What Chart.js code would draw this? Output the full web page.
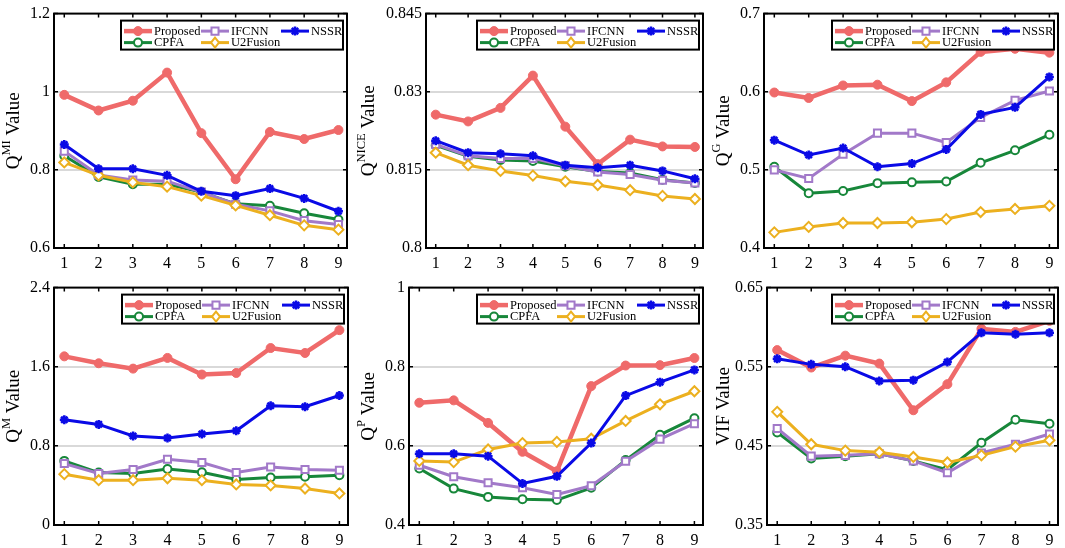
<!DOCTYPE html>
<html lang="en">
<head>
    <meta charset="UTF-8">
    <title>Fusion metrics</title>
    <style>
        body {
            margin: 0;
            background: #ffffff;
        }
        .board {
            position: relative;
            width: 1065px;
            height: 548px;
        }
        .board canvas {
            position: absolute;
        }
    </style>
</head>
<body>
    <div class="board">
        <canvas id="qmi" width="355" height="274" style="left:0;top:0"></canvas>
        <canvas id="qnice" width="355" height="274" style="left:355px;top:0"></canvas>
        <canvas id="qg" width="355" height="274" style="left:710px;top:0"></canvas>
        <canvas id="qm" width="355" height="274" style="left:0;top:274px"></canvas>
        <canvas id="qp" width="355" height="274" style="left:355px;top:274px"></canvas>
        <canvas id="vif" width="355" height="274" style="left:710px;top:274px"></canvas>
    </div>

    <script src="https://cdn.jsdelivr.net/npm/chart.js"></script>
    <script>
        // image index on the x axis
        const xCats = [1, 2, 3, 4, 5, 6, 7, 8, 9];
        const methods = ['Proposed', 'CPFA', 'IFCNN', 'U2Fusion', 'NSSR'];

        // Q^MI
        const qmiTicks = [0.6, 0.8, 1, 1.2];
        const qmiProposed = [0.992, 0.952, 0.977, 1.049, 0.894, 0.776, 0.897, 0.879, 0.902];
        const qmiCPFA     = [0.836, 0.782, 0.763, 0.763, 0.743, 0.713, 0.708, 0.689, 0.673];
        const qmiIFCNN    = [0.848, 0.787, 0.774, 0.771, 0.743, 0.712, 0.695, 0.670, 0.660];
        const qmiU2Fusion = [0.819, 0.786, 0.768, 0.757, 0.734, 0.709, 0.684, 0.658, 0.647];
        const qmiNSSR     = [0.865, 0.803, 0.803, 0.786, 0.745, 0.734, 0.752, 0.727, 0.694];

        // Q^NICE
        const qniceTicks = [0.8, 0.815, 0.83, 0.845];
        const qniceProposed = [0.8256, 0.8243, 0.8269, 0.8331, 0.8233, 0.8161, 0.8208, 0.8195, 0.8194];
        const qniceCPFA     = [0.8197, 0.8176, 0.8169, 0.8167, 0.8156, 0.8147, 0.8144, 0.8131, 0.8125];
        const qniceIFCNN    = [0.8199, 0.8177, 0.8172, 0.8172, 0.8158, 0.8146, 0.8141, 0.8130, 0.8125];
        const qniceU2Fusion = [0.8183, 0.8159, 0.8148, 0.8139, 0.8128, 0.8121, 0.8111, 0.8100, 0.8094];
        const qniceNSSR     = [0.8206, 0.8183, 0.8181, 0.8177, 0.8159, 0.8154, 0.8159, 0.8148, 0.8133];

        // Q^G
        const qgTicks = [0.4, 0.5, 0.6, 0.7];
        const qgProposed = [0.599, 0.592, 0.608, 0.609, 0.588, 0.612, 0.651, 0.655, 0.650];
        const qgCPFA     = [0.504, 0.470, 0.473, 0.483, 0.484, 0.485, 0.509, 0.525, 0.545];
        const qgIFCNN    = [0.500, 0.489, 0.520, 0.547, 0.547, 0.535, 0.567, 0.589, 0.601];
        const qgU2Fusion = [0.420, 0.427, 0.432, 0.432, 0.433, 0.437, 0.446, 0.450, 0.454];
        const qgNSSR     = [0.538, 0.519, 0.528, 0.504, 0.508, 0.526, 0.571, 0.580, 0.619];

        // Q^M
        const qmTicks = [0, 0.8, 1.6, 2.4];
        const qmProposed = [1.705, 1.635, 1.581, 1.689, 1.521, 1.537, 1.789, 1.739, 1.970];
        const qmCPFA     = [0.648, 0.530, 0.520, 0.567, 0.534, 0.460, 0.480, 0.487, 0.504];
        const qmIFCNN    = [0.621, 0.520, 0.561, 0.665, 0.631, 0.530, 0.587, 0.561, 0.554];
        const qmU2Fusion = [0.514, 0.453, 0.453, 0.473, 0.453, 0.410, 0.400, 0.369, 0.319];
        const qmNSSR     = [1.064, 1.017, 0.900, 0.880, 0.920, 0.953, 1.205, 1.195, 1.309];

        // Q^P
        const qpTicks = [0.4, 0.6, 0.8, 1];
        const qpProposed = [0.709, 0.715, 0.658, 0.585, 0.536, 0.751, 0.803, 0.804, 0.822];
        const qpCPFA     = [0.543, 0.492, 0.471, 0.465, 0.463, 0.494, 0.564, 0.628, 0.670];
        const qpIFCNN    = [0.551, 0.522, 0.507, 0.494, 0.477, 0.499, 0.561, 0.617, 0.656];
        const qpU2Fusion = [0.562, 0.559, 0.591, 0.607, 0.610, 0.618, 0.663, 0.705, 0.738];
        const qpNSSR     = [0.580, 0.580, 0.574, 0.505, 0.523, 0.607, 0.727, 0.761, 0.792];

        // VIF
        const vifTicks = [0.35, 0.45, 0.55, 0.65];
        const vifProposed = [0.571, 0.549, 0.564, 0.554, 0.495, 0.528, 0.598, 0.594, 0.608];
        const vifCPFA     = [0.467, 0.434, 0.437, 0.440, 0.431, 0.420, 0.454, 0.483, 0.478];
        const vifIFCNN    = [0.472, 0.437, 0.438, 0.440, 0.431, 0.416, 0.441, 0.452, 0.465];
        const vifU2Fusion = [0.493, 0.452, 0.444, 0.442, 0.436, 0.429, 0.438, 0.449, 0.457];
        const vifNSSR     = [0.560, 0.553, 0.550, 0.532, 0.533, 0.556, 0.593, 0.591, 0.593];

        const FONT = "'Liberation Serif', 'Times New Roman', serif";

        // look of each method's line
        const styles = {
            Proposed: { color: '#ef6a6a', fill: '#ef6a6a', marker: 'circle', radius: 4.5, lineWidth: 4.5, markerWidth: 1, order: 5 },
            CPFA:     { color: '#17873a', fill: '#ffffff', marker: 'circle', radius: 4, lineWidth: 3, markerWidth: 2, order: 4 },
            IFCNN:    { color: '#a279c9', fill: '#ffffff', marker: 'rect', radius: 5, lineWidth: 3, markerWidth: 2, order: 3 },
            U2Fusion: { color: '#ecb01f', fill: '#ffffff', marker: 'rectRot', radius: 5, lineWidth: 3, markerWidth: 2, order: 2 },
            NSSR:     { color: '#0a0ae6', fill: '#0a0ae6', marker: 'star', radius: 4.5, lineWidth: 3, markerWidth: 2.5, order: 1 }
        };

        // small marker painter for the legend
        function drawMarker(ctx, style, x, y) {
            const r = style.radius;
            ctx.fillStyle = style.fill;
            ctx.strokeStyle = style.color;
            ctx.lineWidth = style.markerWidth;
            ctx.beginPath();
            if (style.marker === 'circle') {
                ctx.arc(x, y, r, 0, Math.PI * 2);
                ctx.fill();
                ctx.stroke();
            } else if (style.marker === 'rect') {
                const s = r * Math.SQRT1_2;
                ctx.rect(x - s, y - s, 2 * s, 2 * s);
                ctx.fill();
                ctx.stroke();
            } else if (style.marker === 'rectRot') {
                ctx.moveTo(x, y - r);
                ctx.lineTo(x + r * 0.8, y);
                ctx.lineTo(x, y + r);
                ctx.lineTo(x - r * 0.8, y);
                ctx.closePath();
                ctx.fill();
                ctx.stroke();
            } else {
                ctx.moveTo(x - r, y); ctx.lineTo(x + r, y);
                ctx.moveTo(x, y - r); ctx.lineTo(x, y + r);
                const d = r * Math.SQRT1_2;
                ctx.moveTo(x - d, y - d); ctx.lineTo(x + d, y + d);
                ctx.moveTo(x - d, y + d); ctx.lineTo(x + d, y - d);
                ctx.stroke();
            }
        }

        // box, inward ticks, legend and the y title
        const framePlugin = {
            id: 'frame',
            afterDatasetsDraw(chart, args, opts) {
                const { ctx, chartArea: a } = chart;
                ctx.save();
                ctx.strokeStyle = '#000';
                ctx.lineWidth = 1.5;
                ctx.beginPath();
                chart.scales.y.ticks.forEach(t => {
                    const py = chart.scales.y.getPixelForValue(t.value);
                    ctx.moveTo(a.left, py); ctx.lineTo(a.left + 4, py);
                    ctx.moveTo(a.right, py); ctx.lineTo(a.right - 4, py);
                });
                chart.scales.x.ticks.forEach(t => {
                    const px = chart.scales.x.getPixelForValue(t.value);
                    ctx.moveTo(px, a.bottom); ctx.lineTo(px, a.bottom - 4);
                    ctx.moveTo(px, a.top); ctx.lineTo(px, a.top + 4);
                });
                ctx.stroke();
                ctx.lineWidth = 2;
                ctx.strokeRect(a.left, a.top, a.right - a.left, a.bottom - a.top);

                // legend: 3 columns, filled column by column
                const w = 222, h = 29;
                const bx = a.right - 4 - w, by = a.top + 7;
                ctx.fillStyle = '#fff';
                ctx.fillRect(bx, by, w, h);
                ctx.strokeRect(bx, by, w, h);
                const colX = [3, 80, 160];
                const rowY = [10.5, 22];
                ctx.font = '12.5px ' + FONT;
                ctx.textBaseline = 'middle';
                ctx.textAlign = 'left';
                methods.forEach((m, i) => {
                    const st = styles[m];
                    const lx = bx + colX[Math.floor(i / 2)];
                    const ly = by + rowY[i % 2];
                    ctx.strokeStyle = st.color;
                    ctx.lineWidth = st.lineWidth;
                    ctx.beginPath();
                    ctx.moveTo(lx, ly); ctx.lineTo(lx + 28, ly);
                    ctx.stroke();
                    drawMarker(ctx, st, lx + 14, ly);
                    ctx.fillStyle = '#000';
                    ctx.fillText(m, lx + 30, ly + 0.5);
                });

                // rotated y title with superscript
                const cy = (a.top + a.bottom) / 2;
                ctx.translate(14, cy);
                ctx.rotate(-Math.PI / 2);
                ctx.fillStyle = '#000';
                const big = '19px ' + FONT, small = '12.5px ' + FONT;
                ctx.font = big; const w1 = ctx.measureText(opts.main).width;
                ctx.font = small; const w2 = opts.sup ? ctx.measureText(opts.sup).width : 0;
                ctx.font = big; const w3 = ctx.measureText(opts.rest).width;
                let tx = -(w1 + w2 + w3) / 2;
                ctx.font = big; ctx.fillText(opts.main, tx, 0); tx += w1;
                if (opts.sup) { ctx.font = small; ctx.fillText(opts.sup, tx, -7); tx += w2; }
                ctx.font = big; ctx.fillText(opts.rest, tx, 0);
                ctx.restore();
            }
        };

        function makeChart(id, series, yTicks, title, yWidth, pad) {
            const datasets = methods.map((m, i) => {
                const st = styles[m];
                return {
                    label: m,
                    data: xCats.map((c, k) => ({ x: c, y: series[i][k] })),
                    borderColor: st.color,
                    backgroundColor: st.color,
                    borderWidth: st.lineWidth,
                    pointStyle: st.marker,
                    pointRadius: st.radius,
                    pointBackgroundColor: st.fill,
                    pointBorderColor: st.color,
                    pointBorderWidth: st.markerWidth,
                    tension: 0,
                    order: st.order
                };
            });
            return new Chart(document.getElementById(id), {
                type: 'line',
                data: { datasets },
                plugins: [framePlugin],
                options: {
                    responsive: false,
                    animation: false,
                    layout: { padding: { top: pad.top, right: pad.right, left: 0, bottom: 0 } },
                    plugins: {
                        legend: { display: false },
                        tooltip: { enabled: false },
                        frame: title
                    },
                    scales: {
                        x: {
                            type: 'linear',
                            min: 0.7,
                            max: 9.25,
                            afterBuildTicks: s => { s.ticks = xCats.map(v => ({ value: v })); },
                            afterFit: s => { s.height = pad.xh; },
                            grid: { display: false, drawTicks: false },
                            border: { display: false },
                            ticks: { color: '#000', padding: 6, maxRotation: 0, font: { family: FONT, size: 16 } }
                        },
                        y: {
                            min: yTicks[0],
                            max: yTicks[yTicks.length - 1],
                            afterBuildTicks: s => { s.ticks = yTicks.map(v => ({ value: v })); },
                            afterFit: s => { s.width = yWidth; },
                            grid: {
                                drawTicks: false,
                                lineWidth: 2,
                                color: c => (c.index === 0 || c.index === yTicks.length - 1) ? 'rgba(0,0,0,0)' : '#d9d9d9'
                            },
                            border: { display: false },
                            ticks: {
                                color: '#000',
                                padding: 4,
                                font: { family: FONT, size: 16 },
                                callback: v => String(v)
                            }
                        }
                    }
                }
            });
        }

        const topPad = { top: 7, xh: 26 };
        const botPad = { top: 12, xh: 23 };

        makeChart('qmi', [qmiProposed, qmiCPFA, qmiIFCNN, qmiU2Fusion, qmiNSSR], qmiTicks,
            { main: 'Q', sup: 'MI', rest: ' Value' }, 54, { ...topPad, right: 8 });
        makeChart('qnice', [qniceProposed, qniceCPFA, qniceIFCNN, qniceU2Fusion, qniceNSSR], qniceTicks,
            { main: 'Q', sup: 'NICE', rest: ' Value' }, 71, { ...topPad, right: 7 });
        makeChart('qg', [qgProposed, qgCPFA, qgIFCNN, qgU2Fusion, qgNSSR], qgTicks,
            { main: 'Q', sup: 'G', rest: ' Value' }, 54, { ...topPad, right: 7 });
        makeChart('qm', [qmProposed, qmCPFA, qmIFCNN, qmU2Fusion, qmNSSR], qmTicks,
            { main: 'Q', sup: 'M', rest: ' Value' }, 54, { ...botPad, right: 4 });
        makeChart('qp', [qpProposed, qpCPFA, qpIFCNN, qpU2Fusion, qpNSSR], qpTicks,
            { main: 'Q', sup: 'P', rest: ' Value' }, 54, { ...botPad, right: 4 });
        makeChart('vif', [vifProposed, vifCPFA, vifIFCNN, vifU2Fusion, vifNSSR], vifTicks,
            { main: 'VIF Value', sup: '', rest: '' }, 57, { ...botPad, right: 4 });
    </script>
</body>
</html>
